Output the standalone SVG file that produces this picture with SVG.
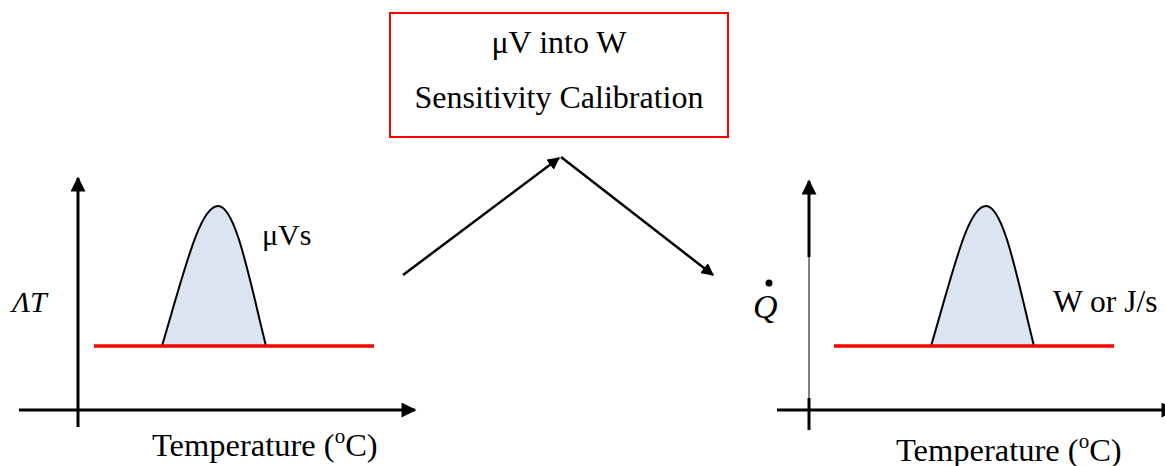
<svg xmlns="http://www.w3.org/2000/svg" width="1165" height="466" viewBox="0 0 1165 466">
<defs>
<marker id="ah" viewBox="0 0 10 10" refX="9" refY="5" markerWidth="5" markerHeight="5" orient="auto" markerUnits="strokeWidth">
<path d="M0,0 L10,5 L0,10 Z" fill="#000"/>
</marker>
<marker id="ax" viewBox="0 0 10 10" refX="9" refY="5" markerWidth="6" markerHeight="5" orient="auto" markerUnits="strokeWidth">
<path d="M0,0 L10,5 L0,10 Z" fill="#000"/>
</marker>
</defs>
<style>
.t{font-family:'Liberation Serif','Times New Roman','DejaVu Serif',serif;fill:#000}
.axis{stroke:#000;stroke-width:3;fill:none}
.base{stroke:#ff0000;stroke-width:3.5;fill:none}
.peak{fill:#dbe4f0;stroke:#000;stroke-width:2}
.conn{stroke:#000;stroke-width:2.5;fill:none}
</style>
<rect width="1165" height="466" fill="#fff"/>

<g id="box">
<rect x="390" y="13" width="338" height="124" fill="#fff" stroke="#ff0000" stroke-width="2"/>
<text class="t" font-size="32" x="559" y="53" text-anchor="middle">μV into W</text>
<text class="t" font-size="32" x="559" y="108" text-anchor="middle">Sensitivity Calibration</text>
</g>

<g id="left-chart">
<line class="axis" x1="78" y1="427" x2="78" y2="178" marker-end="url(#ax)"/>
<line class="axis" x1="19" y1="410" x2="415" y2="410" marker-end="url(#ax)"/>
<path class="peak" d="M162,346 C185,268 200,206 218,206 C236,206 250,282 266,346 Z"/>
<line class="base" x1="94" y1="346" x2="374" y2="346"/>
<text class="t" font-size="30" x="262" y="245">μVs</text>
<text class="t" font-size="30" font-style="italic" x="12" y="312">ΛT</text>
<text class="t" font-size="32.5" x="152" y="456">Temperature (<tspan font-size="21" dy="-13">o</tspan><tspan dy="13">C)</tspan></text>
</g>

<g id="right-chart">
<line class="axis" x1="809" y1="257" x2="809" y2="181" marker-end="url(#ax)"/>
<line x1="809" y1="257" x2="809" y2="400" stroke="#000" stroke-width="1"/>
<line class="axis" x1="809" y1="398" x2="809" y2="430"/>
<line class="axis" x1="777" y1="410" x2="1175" y2="410" marker-end="url(#ax)"/>
<path class="peak" d="M931,346 C954,268 968,206 986,206 C1004,206 1018,282 1034,346 Z"/>
<line class="base" x1="834" y1="346" x2="1114" y2="346"/>
<text class="t" font-size="31.5" x="1053" y="312">W or J/s</text>
<text class="t" font-size="34" font-style="italic" x="753" y="318">Q</text>
<circle cx="769" cy="283" r="3.5" fill="#000"/>
<text class="t" font-size="32.5" x="896" y="461">Temperature (<tspan font-size="21" dy="-13">o</tspan><tspan dy="13">C)</tspan></text>
</g>

<g id="connectors">
<line class="conn" x1="403" y1="275" x2="559" y2="158" marker-end="url(#ah)"/>
<line class="conn" x1="561" y1="157" x2="713" y2="275" marker-end="url(#ah)"/>
</g>
</svg>
